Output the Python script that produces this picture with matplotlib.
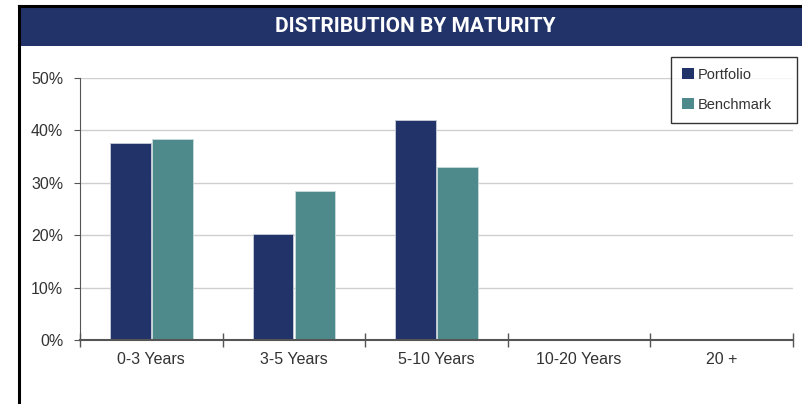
import numpy as np
import matplotlib
matplotlib.use("Agg")
import matplotlib.pyplot as plt
from matplotlib.patches import Rectangle, Patch
from matplotlib.lines import Line2D

# data
categories = ["0-3 Years", "3-5 Years", "5-10 Years", "10-20 Years", "20 +"]
portfolio = [37.6, 20.2, 41.9, 0.0, 0.0]
benchmark = [38.4, 28.4, 33.0, 0.15, 0.0]
yticks = [0, 10, 20, 30, 40, 50]

navy = "#22336a"
teal = "#4e8a8b"

plt.rcParams["font.family"] = ["Liberation Sans", "DejaVu Sans"]

W, H = 802, 404
fig = plt.figure(figsize=(W / 100, H / 100), dpi=100)

# frame lines (left and top) and header band
fig.add_artist(Line2D([19 / W, 19 / W], [0, (H - 6) / H], transform=fig.transFigure,
                      color="black", linewidth=2.2))
fig.add_artist(Line2D([19 / W, 1], [(H - 6) / H, (H - 6) / H], transform=fig.transFigure,
                      color="black", linewidth=2.2))
fig.add_artist(Rectangle((20 / W, (H - 46) / H), (W - 20) / W, 39 / H, transform=fig.transFigure,
                         facecolor=navy, edgecolor="none"))
fig.text(415 / W, (H - 27) / H, "DISTRIBUTION BY MATURITY", color="white", fontsize=15,
         fontweight="bold", ha="center", va="center",
         family=["Roboto", "DejaVu Sans"], fontstretch="condensed")

ax = fig.add_axes([80 / W, (H - 340) / H, (793 - 80) / W, (340 - 78) / H])
x = np.arange(len(categories))
bw = 0.285
ax.bar(x - bw / 2 - 0.005, portfolio, bw, color=navy, edgecolor="#c8cdd8", linewidth=0.6, zorder=3)
ax.bar(x + bw / 2 + 0.005, benchmark, bw, color=teal, edgecolor="#c8dcdc", linewidth=0.6, zorder=3)

ax.set_xlim(-0.5, len(categories) - 0.5)
ax.set_ylim(0, 50)
ax.set_yticks(yticks)
ax.set_yticklabels([f"{v}%" for v in yticks], fontsize=11.5, color="#333333")
ax.tick_params(axis="y", length=4, width=0.8, color="#555555", pad=8)
ax.set_xticks(np.arange(-0.5, len(categories), 1))
ax.set_xticklabels([])
ax.tick_params(axis="x", which="major", direction="inout", length=10, width=1, color="#555555")
ax.set_xticks(x, minor=True)
ax.set_xticklabels(categories, minor=True, fontsize=11.5, color="#333333")
ax.tick_params(axis="x", which="minor", length=0, pad=9)
ax.yaxis.grid(True, color="#cfcfcf", linewidth=1, zorder=0)
ax.set_axisbelow(True)
for s in ["top", "right"]:
    ax.spines[s].set_visible(False)
ax.spines["left"].set_color("#555555")
ax.spines["bottom"].set_color("#555555")
ax.spines["bottom"].set_linewidth(1.5)
ax.spines["bottom"].set_zorder(4)

handles = [Patch(facecolor=navy), Patch(facecolor=teal)]
leg = fig.legend(handles, ["Portfolio", "Benchmark"], loc="upper left",
                 bbox_to_anchor=(671 / W, (H - 57) / H, 126 / W, 0), bbox_transform=fig.transFigure,
                 mode="expand", fontsize=10.5, frameon=True, fancybox=False, edgecolor="black",
                 handlelength=0.8, handleheight=0.8, handletextpad=0.3,
                 labelspacing=1.1, borderpad=0.75, borderaxespad=0)
leg.get_frame().set_linewidth(1)
for t in leg.get_texts():
    t.set_color("#333333")
leg._legend_box.align = "left"

fig.savefig("out.png", dpi=100)
